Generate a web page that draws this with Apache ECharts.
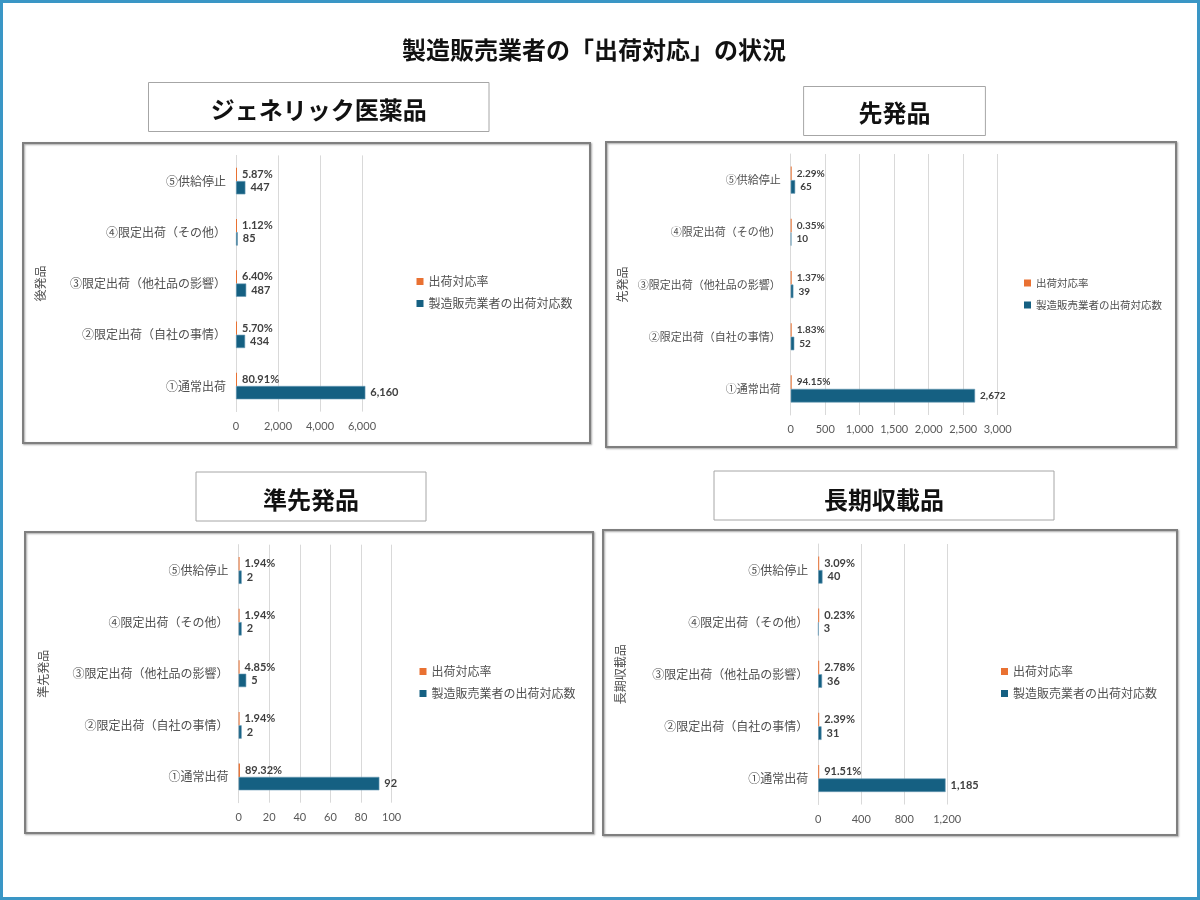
<!DOCTYPE html>
<html>
<head>
<meta charset="utf-8">
<script src="https://cdn.jsdelivr.net/npm/echarts@6/dist/echarts.min.js"></script>
<style>
html,body{margin:0;padding:0;background:#fff;}
#chart{width:1200px;height:900px;}
</style>
</head>
<body>
<div id="chart"></div>
<script>
// ---------- data ----------
const mainTitle = '製造販売業者の「出荷対応」の状況';
const categories = ['①通常出荷','②限定出荷（自社の事情）','③限定出荷（他社品の影響）','④限定出荷（その他）','⑤供給停止'];
const seriesNames = ['出荷対応率','製造販売業者の出荷対応数'];
const panelTitles = ['ジェネリック医薬品','先発品','準先発品','長期収載品'];
const axisNames = ['後発品','先発品','準先発品','長期収載品'];

const genericCounts = [6160, 434, 487, 85, 447];
const genericRates  = [80.91, 5.70, 6.40, 1.12, 5.87];
const brandCounts   = [2672, 52, 39, 10, 65];
const brandRates    = [94.15, 1.83, 1.37, 0.35, 2.29];
const quasiCounts   = [92, 2, 5, 2, 2];
const quasiRates    = [89.32, 1.94, 4.85, 1.94, 1.94];
const longCounts    = [1185, 31, 36, 3, 40];
const longRates     = [91.51, 2.39, 2.78, 0.23, 3.09];

const axisMax      = [6000, 3000, 100, 1200];
const axisInterval = [2000, 500, 20, 400];

// ---------- layout ----------
const countsList = [genericCounts, brandCounts, quasiCounts, longCounts];
const ratesList  = [genericRates, brandRates, quasiRates, longRates];
const grids = [
  {left:236,   top:155.4, width:126, height:256.2},
  {left:790.7, top:154,   width:207, height:261},
  {left:238.6, top:544.7, width:153, height:258},
  {left:818.2, top:544,   width:129, height:260.5}
];
const nameGaps = [190, 162, 189, 192];
const catFont = [12, 11, 12, 12];
const dataFont = [11, 10, 11, 11];
const legendPos = [
  {left:416.5, top:275, fs:12},
  {left:1024, top:276.5, fs:10.5},
  {left:419.5, top:665, fs:12},
  {left:1001, top:665, fs:12}
];
const frames = [
  {x:23, y:143, w:567, h:300},
  {x:606, y:142, w:570, h:305},
  {x:25, y:532, w:568, h:301},
  {x:603, y:530, w:574, h:305}
];
const boxes = [
  {x:148.5, y:82.5, w:340.5, h:49, ty:110},
  {x:803.6, y:86.5, w:181.8, h:49, ty:113},
  {x:196, y:472, w:230, h:49, ty:500},
  {x:714, y:471, w:340, h:49, ty:500}
];
const ORANGE = '#E97132';
const BLUE = '#156082';
const CJK = '"Noto Sans CJK JP", "Noto Sans", sans-serif';
const NUM = 'Lato, "Noto Sans CJK JP", sans-serif';

const fmtNum = v => Number(v).toLocaleString('en-US');

const option = {
  animation: false,
  backgroundColor: '#fff',
  grid: grids.map(g => Object.assign({containLabel:false}, g)),
  xAxis: grids.map((g, i) => ({
    type: 'value', gridIndex: i, min: 0, max: axisMax[i], interval: axisInterval[i],
    axisLine: {show:false}, axisTick: {show:false},
    splitLine: {show:true, lineStyle:{color:'#d9d9d9', width:1}},
    axisLabel: {color:'#595959', fontSize:11, fontFamily:NUM, margin:9, formatter: fmtNum}
  })),
  yAxis: grids.map((g, i) => ({
    type: 'category', gridIndex: i, data: categories,
    axisLine: {show:true, lineStyle:{color:'#d9d9d9'}},
    axisTick: {show:false},
    axisLabel: {color:'#505050', fontSize:catFont[i], fontFamily:CJK, margin:10},
    name: axisNames[i], nameLocation:'middle', nameRotate:90, nameGap:nameGaps[i],
    nameTextStyle: {color:'#505050', fontSize:12, fontFamily:CJK}
  })),
  legend: legendPos.map(p => ({
    orient:'vertical', left:p.left, top:p.top, padding:0, data: seriesNames,
    icon:'rect', itemWidth:7, itemHeight:7, itemGap:9, selectedMode:false,
    itemStyle:{borderWidth:0},
    textStyle:{color:'#505050', fontSize:p.fs, fontFamily:CJK, lineHeight:13}
  })),
  series: [],
  graphic: []
};

for (let i = 0; i < 4; i++) {
  option.series.push({
    name: seriesNames[0], type:'bar', xAxisIndex:i, yAxisIndex:i,
    data: ratesList[i].map(v => v / 100),
    barGap:'0%', barCategoryGap:'48%', barMinHeight:1, clip:false,
    itemStyle:{color:ORANGE},
    label:{show:true, position:'right', distance:5, color:'#404040', fontWeight:'bold',
      fontSize:dataFont[i], fontFamily:NUM,
      formatter: p => ratesList[i][p.dataIndex].toFixed(2) + '%'}
  });
  option.series.push({
    name: seriesNames[1], type:'bar', xAxisIndex:i, yAxisIndex:i,
    data: countsList[i],
    barGap:'0%', barCategoryGap:'48%', clip:false,
    itemStyle:{color:BLUE, borderColor:'#6a9bb5', borderWidth:0.6},
    label:{show:true, position:'right', distance:5, color:'#404040', fontWeight:'bold',
      fontSize:dataFont[i], fontFamily:NUM, formatter: p => fmtNum(p.value)}
  });
}

// outer border
option.graphic.push({type:'rect', silent:true, z:0,
  shape:{x:1.5, y:1.5, width:1197, height:897},
  style:{fill:'none', stroke:'#3a96c5', lineWidth:3}});
// main title
option.graphic.push({type:'text', silent:true, z:10, x:594, y:50,
  style:{text:mainTitle, fill:'#111', font:'bold 24px ' + CJK, align:'center', verticalAlign:'middle'}});
frames.forEach(f => option.graphic.push({type:'rect', silent:true, z:-1,
  shape:{x:f.x, y:f.y, width:f.w, height:f.h},
  style:{fill:'none', stroke:'#7f7f7f', lineWidth:2, shadowBlur:2, shadowOffsetX:1, shadowOffsetY:1, shadowColor:'rgba(0,0,0,0.35)'}}));
boxes.forEach((b, i) => {
  option.graphic.push({type:'rect', silent:true, z:5,
    shape:{x:b.x, y:b.y, width:b.w, height:b.h},
    style:{fill:'#fff', stroke:'#a6a6a6', lineWidth:1}});
  option.graphic.push({type:'text', silent:true, z:6, x:b.x + b.w/2, y:b.ty,
    style:{text:panelTitles[i], fill:'#111', font:'bold 24px ' + CJK, align:'center', verticalAlign:'middle'}});
});

const chart = echarts.init(document.getElementById('chart'), null, {renderer:'canvas', width:1200, height:900});
chart.setOption(option);
</script>
</body>
</html>
